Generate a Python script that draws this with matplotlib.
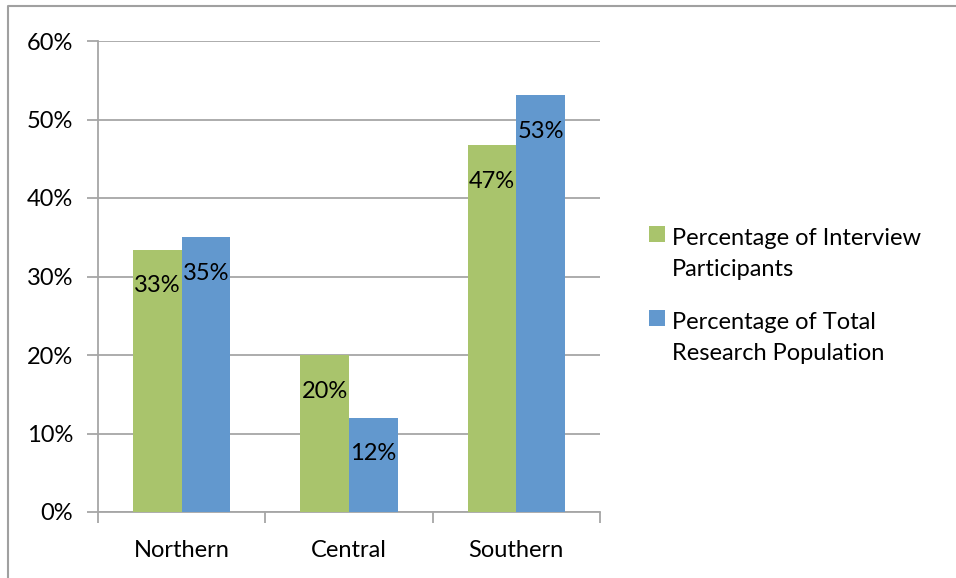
import matplotlib
matplotlib.use("Agg")
import matplotlib.pyplot as plt
from matplotlib.patches import Rectangle
from matplotlib.lines import Line2D
import numpy as np

categories = ["Northern", "Central", "Southern"]
interview = [0.334, 0.200, 0.467]
population = [0.350, 0.120, 0.531]
interview_labels = ["33%", "20%", "47%"]
population_labels = ["35%", "12%", "53%"]
series_names = ["Percentage of Interview\nParticipants", "Percentage of Total\nResearch Population"]
yticks = [0, 0.1, 0.2, 0.3, 0.4, 0.5, 0.6]
ytick_labels = ["0%", "10%", "20%", "30%", "40%", "50%", "60%"]

plt.rcParams['font.family'] = ['Lato', 'DejaVu Sans']
green = "#A9C46C"
blue = "#6298CE"
grid = "#A6A6A6"
FS = 17

fig = plt.figure(figsize=(9.56, 5.78), dpi=100)
ax = fig.add_axes([98/956, 1-512/578, (600-98)/956, (512-41)/578])

x = np.arange(len(categories))
w = 0.29
b1 = ax.bar(x - w/2, interview, w, color=green, zorder=3)
b2 = ax.bar(x + w/2, population, w, color=blue, zorder=3)

for rect, lab in zip(b1, interview_labels):
    ax.text(rect.get_x() + rect.get_width()/2, rect.get_height() - 0.046, lab,
            ha='center', va='center', fontsize=FS, color='black', zorder=4)
for rect, lab in zip(b2, population_labels):
    ax.text(rect.get_x() + rect.get_width()/2, rect.get_height() - 0.046, lab,
            ha='center', va='center', fontsize=FS, color='black', zorder=4)

ax.set_xlim(-0.5, 2.5)
ax.set_ylim(0, 0.6)
ax.set_yticks(yticks)
ax.set_yticklabels(ytick_labels, fontsize=FS)
ax.yaxis.grid(True, color=grid, linewidth=1.3, zorder=0)
ax.set_axisbelow(True)

ax.set_xticks([-0.5, 0.5, 1.5, 2.5])
ax.set_xticklabels([])
ax.set_xticks(x, minor=True)
ax.set_xticklabels(categories, minor=True, fontsize=FS)
ax.tick_params(axis='x', which='minor', length=0, pad=20)
ax.tick_params(axis='x', which='major', length=8, color=grid, width=1.3)
ax.tick_params(axis='y', length=8, color=grid, width=1.3, pad=10)

for s in ['top', 'right']:
    ax.spines[s].set_visible(False)
for s in ['left', 'bottom']:
    ax.spines[s].set_color(grid)
    ax.spines[s].set_linewidth(1.3)

# legend (Excel-like: swatch aligned with first text line)
W, H = 956, 578
for i, (name, col) in enumerate(zip(series_names, [green, blue])):
    top = 226 + i * 84
    fig.patches.append(Rectangle((649/W, 1 - (top + 16)/H), 16/W, 16/H,
                                 transform=fig.transFigure, facecolor=col, edgecolor='none'))
    fig.text(672/W, 1 - (top + 2)/H, name, ha='left', va='top', fontsize=FS,
             linespacing=1.6)

# chart-area border: only the left and top edges are visible in the reference
fig.lines.append(Line2D([7.5/W, 7.5/W, 1], [0, 1 - 5.5/H, 1 - 5.5/H],
                        transform=fig.transFigure, color="#A0A0A0", linewidth=1.5))

fig.savefig("out.png", dpi=100)
